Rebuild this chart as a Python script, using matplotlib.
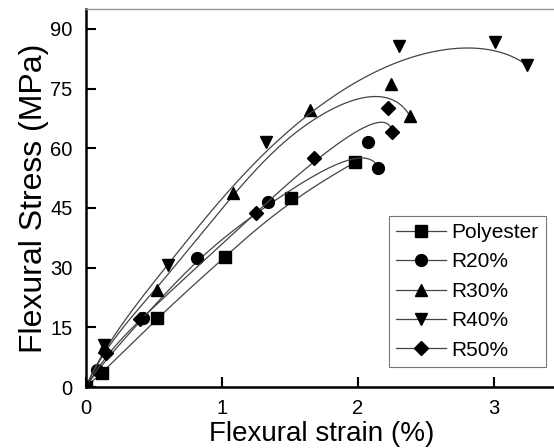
import numpy as np
import matplotlib
matplotlib.use('Agg')
import matplotlib.pyplot as plt
from matplotlib.lines import Line2D

plt.rcParams['font.family'] = ['Liberation Sans', 'DejaVu Sans']

series = ['Polyester', 'R20%', 'R30%', 'R40%', 'R50%']
markers = ['s', 'o', '^', 'v', 'D']
msizes = [8, 8.5, 9, 9, 7.5]

poly_x = [0.0, 0.12, 0.52, 1.02, 1.51, 1.98]
poly_y = [0.0, 3.5, 17.3, 32.7, 47.5, 56.5]
r20_x = [0.0, 0.08, 0.42, 0.82, 1.34, 2.07, 2.15]
r20_y = [0.0, 4.3, 17.4, 32.4, 46.5, 61.6, 55.0]
r30_x = [0.0, 0.13, 0.52, 1.08, 1.65, 2.24, 2.38]
r30_y = [0.0, 10.0, 24.3, 48.7, 69.6, 76.2, 68.2]
r40_x = [0.0, 0.13, 0.6, 1.32, 2.3, 3.01, 3.24]
r40_y = [0.0, 10.5, 30.7, 61.5, 85.7, 86.7, 80.9]
r50_x = [0.0, 0.15, 0.4, 1.25, 1.68, 2.22, 2.25]
r50_y = [0.0, 8.5, 17.2, 43.7, 57.5, 70.1, 64.1]

xs = [poly_x, r20_x, r30_x, r40_x, r50_x]
ys = [poly_y, r20_y, r30_y, r40_y, r50_y]


def bspline(px, py, k=3, num=300):
    # clamped uniform B-spline using the data points as control points
    p = np.column_stack([px, py])
    n = len(p)
    t = np.concatenate([np.zeros(k), np.linspace(0, 1, n - k + 1), np.ones(k)])
    u = np.linspace(0, 1 - 1e-9, num)
    B = np.zeros((num, len(t) - 1))
    for i in range(len(t) - 1):
        B[:, i] = (t[i] <= u) & (u < t[i + 1])
    for d in range(1, k + 1):
        Bn = np.zeros((num, len(t) - 1 - d))
        for i in range(len(t) - 1 - d):
            left = 0.0
            right = 0.0
            if t[i + d] > t[i]:
                left = (u - t[i]) / (t[i + d] - t[i]) * B[:, i]
            if t[i + d + 1] > t[i + 1]:
                right = (t[i + d + 1] - u) / (t[i + d + 1] - t[i + 1]) * B[:, i + 1]
            Bn[:, i] = left + right
        B = Bn
    c = B @ p
    return c[:, 0], c[:, 1]


fig = plt.figure(figsize=(5.54, 4.48), dpi=100)
ax = fig.add_axes([0.155, 0.136, 0.845, 0.844])

for x, y, m, s in zip(xs, ys, markers, msizes):
    cx, cy = bspline(x, y)
    ax.plot(cx, cy, color='#444444', lw=0.9)
    ax.plot(x, y, linestyle='none', marker=m, color='black', ms=s)

ax.set_xlim(0, 3.44)
ax.set_ylim(0, 95)
ax.set_xticks([0, 1, 2, 3])
ax.set_yticks([0, 15, 30, 45, 60, 75, 90])
ax.tick_params(direction='in', length=7, width=1.5, labelsize=14.5)
ax.tick_params(axis='x', pad=8.5)
ax.tick_params(axis='y', pad=9.5)
ax.spines['left'].set_linewidth(1.8)
ax.spines['bottom'].set_linewidth(1.8)
ax.spines['right'].set_visible(False)
ax.spines['top'].set_color('#999999')
ax.spines['top'].set_linewidth(1)
ax.set_xlabel('Flexural strain (%)', fontsize=20)
ax.xaxis.set_label_coords(0.504, -0.09)
ax.set_ylabel('Flexural Stress (MPa)', fontsize=23, labelpad=1)

handles = [Line2D([], [], color='#444444', lw=0.9, marker=m, markersize=s,
                  markerfacecolor='black', markeredgecolor='black')
           for m, s in zip(markers, msizes)]
leg = ax.legend(handles, series, loc='lower left', bbox_to_anchor=(0.647, 0.053),
                fontsize=15, handlelength=2.4, fancybox=False, frameon=True,
                borderaxespad=0, labelspacing=0.5, handletextpad=0.25, borderpad=0.35)
leg.get_frame().set_edgecolor('#555555')
leg.get_frame().set_linewidth(0.8)

fig.savefig('out.png', dpi=100)
